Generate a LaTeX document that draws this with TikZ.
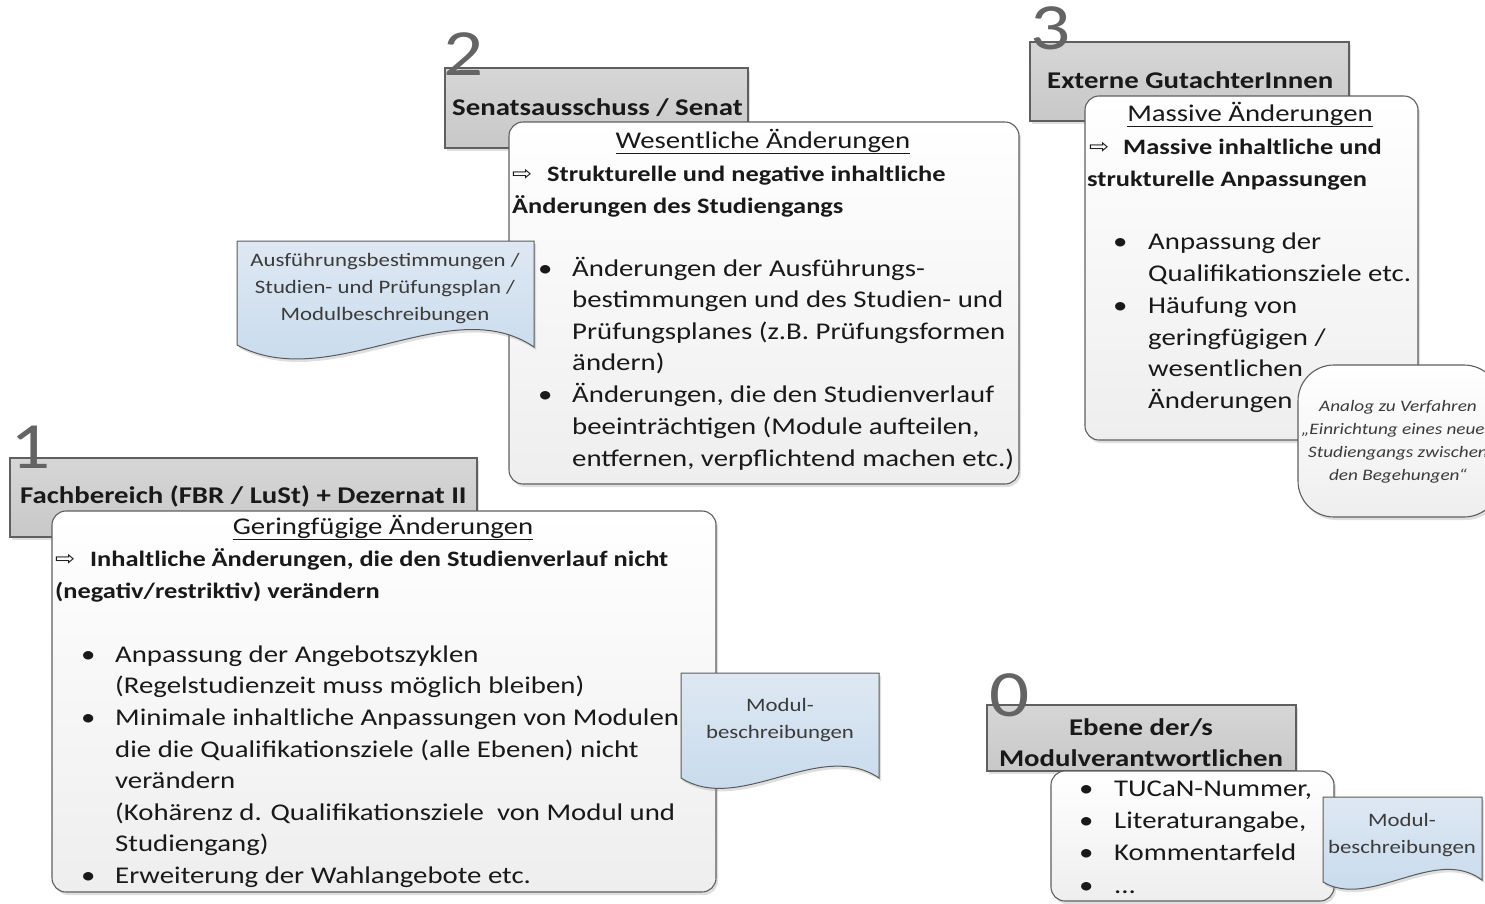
\documentclass[tikz,border=0pt]{standalone}
\usepackage{fontspec}
\setmainfont{Carlito}[FakeStretch=1.2]
\newfontfamily\arrowfont{DejaVu Sans}[FakeStretch=1.2]
\usetikzlibrary{shadows}
\definecolor{numgray}{RGB}{100,100,100}
\definecolor{txtcol}{RGB}{25,25,25}
\definecolor{boxline}{RGB}{95,95,95}
\definecolor{grayTop}{RGB}{214,214,214}
\definecolor{grayBot}{RGB}{200,200,200}
\definecolor{whiteBot}{RGB}{238,238,238}
\definecolor{docTop}{RGB}{222,232,243}
\definecolor{docBot}{RGB}{196,216,235}
\definecolor{docline}{RGB}{90,90,90}
\tikzset{
  shad/.style={drop shadow={opacity=0.25, shadow xshift=2pt, shadow yshift=-3pt}},
  graybox/.style={draw=boxline, line width=1.1pt, top color=grayTop, bottom color=grayBot, anchor=north west, inner sep=0pt, outer sep=0pt, shad},
  whitebox/.style={draw=boxline, line width=1.1pt, rounded corners=14pt, top color=white, bottom color=whiteBot, anchor=north west, inner sep=0pt, outer sep=0pt, shad},
  docshape/.style={draw=docline, line width=1pt, top color=docTop, bottom color=docBot, shad},
  t/.style={anchor=base west, inner sep=0pt, text=txtcol, font=\fontsize{24}{29}\selectfont},
  tb/.style={t, font=\fontsize{22}{27}\selectfont\bfseries},
  hd/.style={t, font=\fontsize{24}{29}\selectfont\bfseries},
  ttl/.style={t, anchor=base},
  arr/.style={anchor=base west, inner sep=0pt, text=txtcol, font=\arrowfont\fontsize{20}{24}\selectfont},
  num/.style={anchor=base west, inner sep=0pt, text=numgray, text height=0.64em, text depth=0pt, font=\fontsize{66}{70}\selectfont},
  dtext/.style={anchor=base, inner sep=0pt, text=txtcol!85, font=\fontsize{19}{22}\selectfont},
  ctext/.style={anchor=base, inner sep=0pt, text=txtcol!85, font=\fontsize{16}{19}\selectfont\itshape},
}
\begin{document}
\begin{tikzpicture}[x=1pt,y=-1pt]
\useasboundingbox (0,0) rectangle (1485,903);
\clip (0,0) rectangle (1485,903);

% ---------------- Box 2 ----------------
\node[graybox, minimum width=303, minimum height=80] (g2) at (445,68) {};
\node[num] (n2) at (443,75) {2};
\node[hd] (h2) at (452,115) {Senatsausschuss / Senat};
\node[whitebox, minimum width=510, minimum height=362] (w2) at (509,122) {};
\node[ttl] (t2) at (763,148) {\underline{Wesentliche Änderungen}};
\node[arr] (a2) at (512,180) {⇨};
\node[tb] (b2a) at (547,181) {Strukturelle und negative inhaltliche};
\node[tb] (b2b) at (512,213) {Änderungen des Studiengangs};
\node[t] (p2a) at (538,276) {•};
\node[t] (l2a) at (572,276) {Änderungen der Ausführungs-};
\node[t] (l2b) at (572,307) {bestimmungen und des Studien- und};
\node[t] (l2c) at (572,339) {Prüfungsplanes (z.B. Prüfungsformen};
\node[t] (l2d) at (572,370) {ändern)};
\node[t] (p2b) at (538,402) {•};
\node[t] (l2e) at (572,402) {Änderungen, die den Studienverlauf};
\node[t] (l2f) at (572,434) {beeinträchtigen (Module aufteilen,};
\node[t] (l2g) at (572,466) {entfernen, verpflichtend machen etc.)};

% document 2
\draw[docshape] (237,241) -- (534,241) -- (534,347)
  .. controls (450,290) and (330,395) .. (237,345) -- cycle;
\coordinate (d2) at (385,241);
\node[dtext] (d2a) at (385,266) {Ausführungsbestimmungen /};
\node[dtext] (d2b) at (385,293) {Studien- und Prüfungsplan /};
\node[dtext] (d2c) at (385,320) {Modulbeschreibungen};

% ---------------- Box 3 ----------------
\node[graybox, minimum width=319, minimum height=79] (g3) at (1030,42) {};
\node[num] (n3) at (1030,49) {3};
\node[hd] (h3) at (1047,88) {Externe GutachterInnen};
\node[whitebox, minimum width=333, minimum height=344] (w3) at (1085,96) {};
\node[ttl] (t3) at (1250,121) {\underline{Massive Änderungen}};
\node[arr] (a3) at (1089,153) {⇨};
\node[tb] (b3a) at (1123,154) {Massive inhaltliche und};
\node[tb] (b3b) at (1087,186) {strukturelle Anpassungen};
\node[t] (p3a) at (1113,249) {•};
\node[t] (l3a) at (1148,249) {Anpassung der};
\node[t] (l3b) at (1148,281) {Qualifikationsziele etc.};
\node[t] (p3b) at (1113,313) {•};
\node[t] (l3c) at (1148,313) {Häufung von};
\node[t] (l3d) at (1148,345) {geringfügigen /};
\node[t] (l3e) at (1148,376) {wesentlichen};
\node[t] (l3f) at (1148,408) {Änderungen};

% callout
\node[whitebox, rounded corners=36pt, minimum width=202, minimum height=152] (cal) at (1298,365) {};
\node[ctext] (c1) at (1398,411) {Analog zu Verfahren};
\node[ctext] (c2) at (1398,434) {„Einrichtung eines neuen};
\node[ctext] (c3) at (1398,457) {Studiengangs zwischen};
\node[ctext] (c4) at (1398,480) {den Begehungen“};

% ---------------- Box 1 ----------------
\node[graybox, minimum width=467, minimum height=79] (g1) at (10,458) {};
\node[num] (n1) at (10,468) {1};
\node[hd] (h1) at (20,503) {Fachbereich (FBR / LuSt) + Dezernat II};
\node[whitebox, minimum width=664, minimum height=381] (w1) at (52,511) {};
\node[ttl] (t1) at (383,534) {\underline{Geringfügige Änderungen}};
\node[arr] (a1) at (55,565) {⇨};
\node[tb] (b1a) at (90,566) {Inhaltliche Änderungen, die den Studienverlauf nicht};
\node[tb] (b1b) at (55,598) {(negativ/restriktiv) verändern};
\node[t] (p1a) at (81,662) {•};
\node[t] (l1a) at (115,662) {Anpassung der Angebotszyklen};
\node[t] (l1b) at (115,693) {(Regelstudienzeit muss möglich bleiben)};
\node[t] (p1b) at (81,725) {•};
\node[t] (l1c) at (115,725) {Minimale inhaltliche Anpassungen von Modulen,};
\node[t] (l1d) at (115,757) {die die Qualifikationsziele (alle Ebenen) nicht};
\node[t] (l1e) at (115,788) {verändern};
\node[t] (l1f) at (115,820) {(Kohärenz d. Qualifikationsziele\ \ von Modul und};
\node[t] (l1g) at (115,851) {Studiengang)};
\node[t] (p1c) at (81,883) {•};
\node[t] (l1h) at (115,883) {Erweiterung der Wahlangebote etc.};

% document 1
\draw[docshape] (681,673) -- (879,673) -- (879,778)
  .. controls (820,738) and (740,815) .. (681,778) -- cycle;
\coordinate (d1) at (780,673);
\node[dtext] (d1a) at (780,711) {Modul-};
\node[dtext] (d1b) at (780,738) {beschreibungen};

% ---------------- Box 0 ----------------
\node[graybox, minimum width=309, minimum height=66] (g0) at (987,705) {};
\node[num] (n0) at (989,716) {0};
\node[hd, anchor=base] (h0a) at (1141,735) {Ebene der/s};
\node[hd, anchor=base] (h0b) at (1141,766) {Modulverantwortlichen};
\node[whitebox, minimum width=283, minimum height=130] (w0) at (1051,771) {};
\node[t] (p0a) at (1079,796) {•};
\node[t] (l0a) at (1114,796) {TUCaN-Nummer,};
\node[t] (p0b) at (1079,828) {•};
\node[t] (l0b) at (1114,828) {Literaturangabe,};
\node[t] (p0c) at (1079,860) {•};
\node[t] (l0c) at (1114,860) {Kommentarfeld};
\node[t] (p0d) at (1079,893) {•};
\node[t] (l0d) at (1114,893) {...};

% document 0
\draw[docshape] (1323,797) -- (1482,797) -- (1482,880)
  .. controls (1435,845) and (1370,910) .. (1323,882) -- cycle;
\coordinate (d0) at (1402,797);
\node[dtext] (d0a) at (1402,826) {Modul-};
\node[dtext] (d0b) at (1402,853) {beschreibungen};
\end{tikzpicture}
\end{document}
